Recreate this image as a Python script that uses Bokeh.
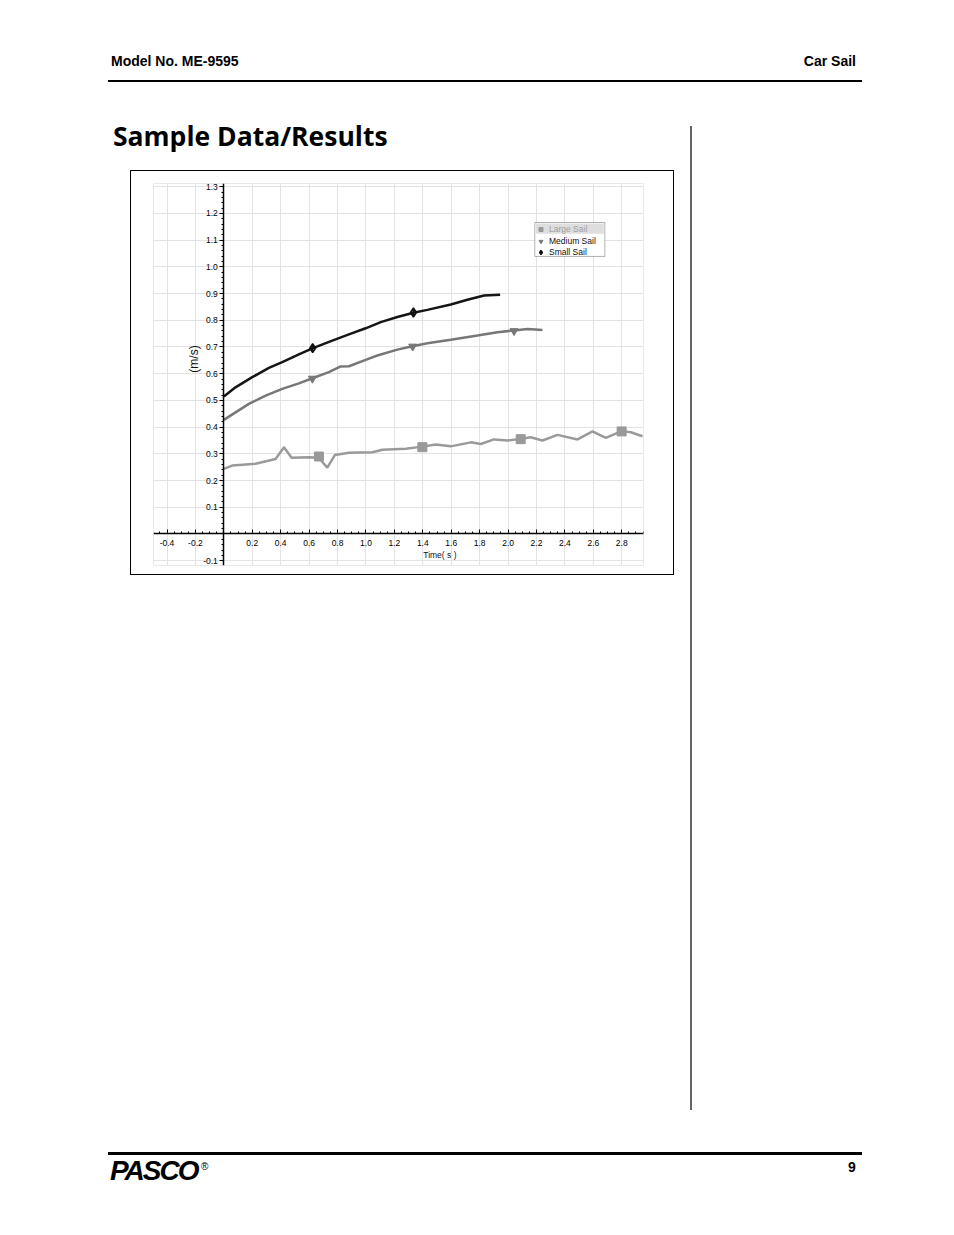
from math import pi
from bokeh.plotting import figure
from bokeh.models import (FixedTicker, Legend, LegendItem, BoxAnnotation, Label, Div, Spacer,
                          PrintfTickFormatter)
from bokeh.layouts import column, row
from bokeh.embed import file_html
from bokeh.resources import INLINE

# ---------------- data ----------------
small_t = [0.0, 0.082, 0.200, 0.317, 0.411, 0.528, 0.627, 0.763, 0.880, 0.998, 1.104, 1.221,
           1.334, 1.432, 1.597, 1.714, 1.831, 1.944]
small_v = [0.515, 0.549, 0.587, 0.622, 0.643, 0.672, 0.696, 0.724, 0.747, 0.770, 0.793, 0.812,
           0.828, 0.839, 0.859, 0.877, 0.893, 0.896]

medium_t = [0.0, 0.176, 0.294, 0.411, 0.528, 0.623, 0.739, 0.822, 0.880, 0.998, 1.080, 1.221,
            1.327, 1.432, 1.597, 1.785, 1.925, 2.042, 2.137, 2.242]
medium_v = [0.427, 0.487, 0.518, 0.543, 0.564, 0.583, 0.606, 0.627, 0.628, 0.652, 0.668, 0.690,
            0.703, 0.714, 0.727, 0.743, 0.755, 0.762, 0.767, 0.764]

large_t = [0.0, 0.059, 0.223, 0.364, 0.423, 0.477, 0.599, 0.669, 0.728, 0.782, 0.880, 1.045,
           1.115, 1.280, 1.397, 1.491, 1.597, 1.738, 1.808, 1.901, 1.996, 2.089, 2.159, 2.242,
           2.348, 2.489, 2.594, 2.688, 2.799, 2.864, 2.946]
large_v = [0.244, 0.256, 0.263, 0.281, 0.325, 0.285, 0.287, 0.285, 0.248, 0.296, 0.304, 0.306,
           0.315, 0.319, 0.327, 0.335, 0.328, 0.343, 0.337, 0.354, 0.350, 0.356, 0.362, 0.350,
           0.371, 0.354, 0.384, 0.360, 0.385, 0.381, 0.366]

small_mark_t = [0.625, 1.334]
small_mark_v = [0.696, 0.829]
medium_mark_t = [0.623, 1.329, 2.042]
medium_mark_v = [0.582, 0.702, 0.760]
large_mark_t = [0.669, 1.397, 2.089, 2.799]
large_mark_v = [0.290, 0.325, 0.355, 0.384]

x_tick_values = [-0.4, -0.2, 0.2, 0.4, 0.6, 0.8, 1.0, 1.2, 1.4, 1.6, 1.8, 2.0, 2.2, 2.4, 2.6, 2.8]
y_tick_values = [-0.1, 0.1, 0.2, 0.3, 0.4, 0.5, 0.6, 0.7, 0.8, 0.9, 1.0, 1.1, 1.2, 1.3]
series_names = ["Large Sail", "Medium Sail", "Small Sail"]
x_title = "Time( s )"
y_title = "(m/s)"

FONT = "Liberation Sans"

# ---------------- chart ----------------
p = figure(width=542, height=403, x_range=(-0.495, 2.953), y_range=(-0.118, 1.312),
           output_backend="svg", toolbar_location=None,
           min_border_left=22, min_border_right=30, min_border_top=12, min_border_bottom=9,
           background_fill_color="white", border_fill_color="white",
           styles={"outline": "1px solid #000"})
p.outline_line_color = "#e8e8e8"

x_minor = [round(-0.45 + 0.05 * i, 3) for i in range(69)]
y_minor = [round(-0.1 + 0.02 * i, 3) for i in range(71)]
p.xaxis.ticker = FixedTicker(ticks=x_tick_values, minor_ticks=x_minor)
p.yaxis.ticker = FixedTicker(ticks=y_tick_values, minor_ticks=y_minor)
p.xgrid.ticker = FixedTicker(ticks=x_tick_values)
p.ygrid.ticker = FixedTicker(ticks=y_tick_values)
p.grid.grid_line_color = "#e3e3e3"
p.grid.grid_line_width = 1

for ax in (p.xaxis, p.yaxis):
    ax.fixed_location = 0
    ax.formatter = PrintfTickFormatter(format="%.1f")
    ax.axis_line_color = "black"
    ax.axis_line_width = 1.5
    ax.major_tick_line_color = "black"
    ax.minor_tick_line_color = "black"
    ax.major_label_text_font = FONT
    ax.major_label_text_font_size = "8.5px"
    ax.major_label_text_color = "#000"

p.xaxis.major_tick_in = 4
p.xaxis.major_tick_out = 0
p.xaxis.minor_tick_in = 2
p.xaxis.minor_tick_out = 0
p.xaxis.major_label_standoff = 6

p.yaxis.major_tick_in = 0
p.yaxis.major_tick_out = 4
p.yaxis.minor_tick_in = 0
p.yaxis.minor_tick_out = 2
p.yaxis.major_label_standoff = 2

# lines
p.line(large_t, large_v, line_color="#9a9a9a", line_width=2.5)
p.line(medium_t, medium_v, line_color="#777777", line_width=2.5)
p.line(small_t, small_v, line_color="#151515", line_width=2.5)

r_large = p.scatter(large_mark_t, large_mark_v, marker="square", size=9,
                    fill_color="#999999", line_color="#999999")
r_medium = p.scatter(medium_mark_t, medium_mark_v, marker="inverted_triangle", size=8,
                     fill_color="#777777", line_color="#777777")
r_small = p.scatter(small_mark_t, small_mark_v, marker="diamond_cross", size=9,
                    fill_alpha=0, line_color="#111111", line_width=1.5)

p.add_layout(Label(x=1.52, y=-0.079, text=x_title, text_align="center", text_baseline="middle",
                   text_font=FONT, text_font_size="8.5px", text_color="#111"))
p.add_layout(Label(x=-0.213, y=0.655, text=y_title, angle=pi / 2, text_align="center",
                   text_baseline="middle", text_font=FONT, text_font_size="12px",
                   text_color="#111"))

# legend: white box with border, highlighted first row
p.add_layout(BoxAnnotation(left=2.188, right=2.681, bottom=1.039, top=1.166,
                           fill_color="white", fill_alpha=1, line_color="black", line_width=1))
p.add_layout(BoxAnnotation(left=2.195, right=2.674, bottom=1.124, top=1.162,
                           fill_color="#dedede", fill_alpha=1, line_alpha=0))

leg_common = dict(margin=0, padding=1, spacing=1, label_height=9, glyph_height=10, glyph_width=11,
                  label_standoff=3, background_fill_alpha=0, border_line_alpha=0,
                  label_text_font=FONT, label_text_font_size="8.5px")
leg1 = Legend(items=[LegendItem(label=series_names[0], renderers=[r_large])],
              location=(381, 330), label_text_color="#a0a0a0", **leg_common)
leg2 = Legend(items=[LegendItem(label=series_names[1], renderers=[r_medium]),
                     LegendItem(label=series_names[2], renderers=[r_small])],
              location=(381, 307), label_text_color="#111", **leg_common)
p.add_layout(leg1)
p.add_layout(leg2)

# ---------------- page ----------------
top_html = """<div style="position:relative;width:954px;height:171px;font-family:'Liberation Sans',Arial,sans-serif;color:#000;">
<div style="position:absolute;left:111px;top:54px;font-size:14px;line-height:14px;font-weight:bold;white-space:nowrap;">Model No. ME-9595</div>
<div style="position:absolute;right:98px;top:54px;font-size:14px;line-height:14px;font-weight:bold;white-space:nowrap;">Car Sail</div>
<div style="position:absolute;left:108px;top:80px;width:754px;height:1.5px;background:#000;"></div>
<div style="position:absolute;left:113px;top:123px;font-family:'Open Sans',sans-serif;font-weight:bold;font-size:26.5px;line-height:26px;white-space:nowrap;">Sample Data/Results</div>
<div style="position:absolute;left:690px;top:126px;width:1.5px;height:45px;background:#666;"></div>
</div>"""

right_html = """<div style="position:relative;width:281px;height:403px;">
<div style="position:absolute;left:17px;top:0px;width:1.5px;height:403px;background:#666;"></div>
</div>"""

bottom_html = """<div style="position:relative;width:954px;height:661px;font-family:'Liberation Sans',Arial,sans-serif;color:#000;">
<div style="position:absolute;left:690px;top:0px;width:1.5px;height:536px;background:#666;"></div>
<div style="position:absolute;left:108px;top:578px;width:754px;height:3px;background:#000;"></div>
<div style="position:absolute;left:110px;top:583px;font-size:28px;line-height:28px;font-weight:900;font-style:italic;letter-spacing:-2px;white-space:nowrap;">PASCO</div>
<div style="position:absolute;left:201px;top:588px;font-size:10px;line-height:10px;white-space:nowrap;">&reg;</div>
<div style="position:absolute;left:848px;top:586px;font-size:14px;line-height:14px;font-weight:bold;white-space:nowrap;">9</div>
</div>"""

top_div = Div(text=top_html, width=954, height=171, margin=0)
right_div = Div(text=right_html, width=281, height=403, margin=0)
bottom_div = Div(text=bottom_html, width=954, height=661, margin=0)

layout = column(top_div, row(Spacer(width=131, height=403, margin=0), p, right_div), bottom_div)

open("out.html", "w").write(file_html(layout, INLINE))
